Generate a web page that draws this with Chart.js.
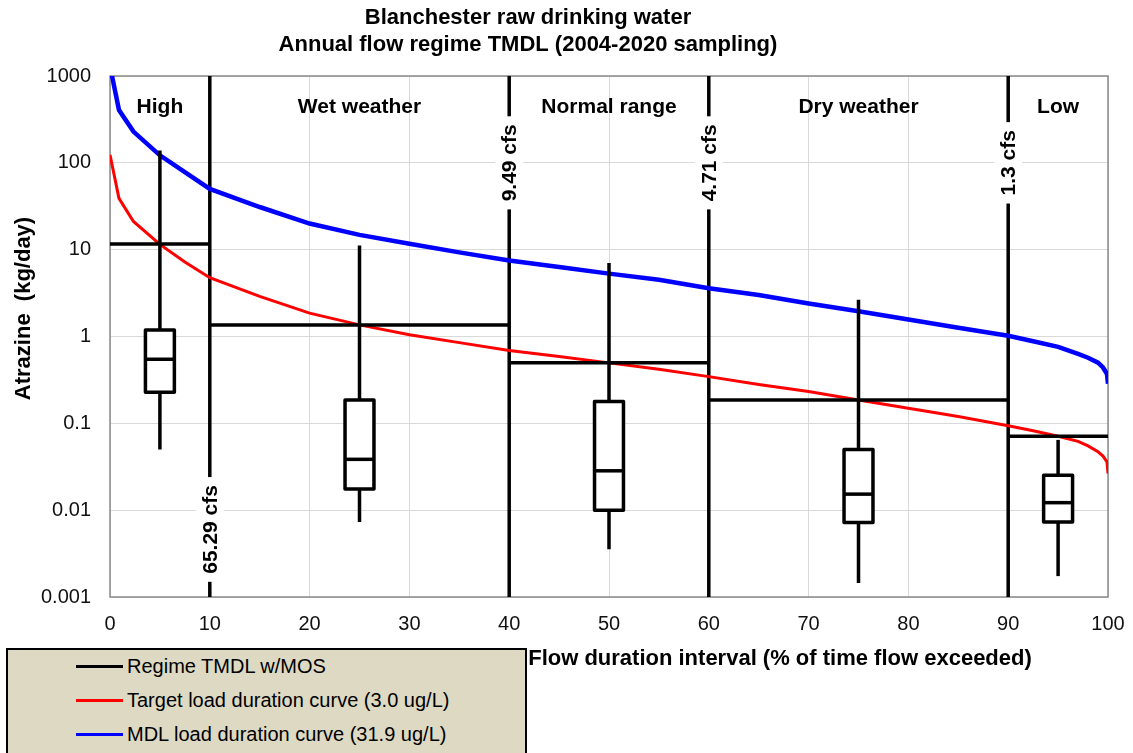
<!DOCTYPE html>
<html>
<head>
<meta charset="utf-8">
<script src="https://cdn.jsdelivr.net/npm/chart.js@4/dist/chart.umd.min.js"></script>
<style>
  html, body { margin: 0; padding: 0; background: #fff; }
  #wrap { position: relative; width: 1133px; height: 753px; overflow: hidden; }
  #legend {
    position: absolute; left: 6px; top: 648px; width: 521px; height: 120px;
    box-sizing: border-box; background: #ddd9c3; border: 2px solid #000;
    font: 20px "Liberation Sans", Arial, sans-serif; color: #000;
  }
  #legend .item { position: absolute; left: 68px; height: 24px; line-height: 24px; white-space: nowrap; }
  #legend .swatch { display: inline-block; width: 47px; height: 3px; vertical-align: middle; margin-right: 4px; position: relative; top: -1px; }
</style>
</head>
<body>
<div id="wrap">
  <canvas id="chart" width="1133" height="753"></canvas>
  <div id="legend"></div>
</div>
<script>
// flow duration interval (% of time flow exceeded)
const flowPct = [0, 0.9, 2.35, 5, 7.5, 10, 15, 20, 25, 30, 35, 40, 45, 50, 55, 60, 65, 70, 75, 80, 85, 90, 92.5, 95, 97, 98, 99, 99.5, 99.9, 100];
// load duration curves, kg/day
const targetLoad = [124, 39, 21.1, 11.5, 7.2, 4.75, 2.9, 1.86, 1.36, 1.05, 0.85, 0.69, 0.59, 0.497, 0.42, 0.345, 0.28, 0.232, 0.186, 0.149, 0.12, 0.094, 0.082, 0.071, 0.062, 0.055, 0.047, 0.042, 0.036, 0.0265];
const mdlLoad = [1300, 406, 229, 122, 78, 50, 31, 20, 14.8, 11.7, 9.3, 7.5, 6.3, 5.3, 4.5, 3.6, 3.0, 2.4, 1.95, 1.57, 1.26, 1.02, 0.88, 0.76, 0.63, 0.57, 0.5, 0.44, 0.37, 0.285];

// flow regimes
const regimeBounds = [0, 10, 40, 60, 90, 100];
const regimeNames = ['High', 'Wet weather', 'Normal range', 'Dry weather', 'Low'];
const regimeTmdl = [11.6, 1.36, 0.497, 0.186, 0.0708];
const dividerFlow = [10, 40, 60, 90];
const dividerCfs = ['65.29 cfs', '9.49 cfs', '4.71 cfs', '1.3 cfs'];

// sampled loads per regime (box plots)
const boxFlow = [5, 25, 50, 75, 95];
const whiskerHigh = [139, 11.2, 7.0, 2.65, 0.0645];
const q3 = [1.19, 0.186, 0.178, 0.050, 0.0253];
const median = [0.547, 0.0385, 0.0284, 0.0153, 0.0122];
const q1 = [0.228, 0.0175, 0.0100, 0.0072, 0.0073];
const whiskerLow = [0.050, 0.0073, 0.00355, 0.00145, 0.00174];

const yTicks = [0.001, 0.01, 0.1, 1, 10, 100, 1000];
const yTickLabels = ['0.001', '0.01', '0.1', '1', '10', '100', '1000'];

const FONT = '"Liberation Sans", Arial, sans-serif';
Chart.defaults.font.family = FONT;
Chart.defaults.color = '#111';

const tmdlPoints = [];
regimeTmdl.forEach((v, i) => {
  tmdlPoints.push({ x: regimeBounds[i], y: v }, { x: regimeBounds[i + 1], y: v }, { x: regimeBounds[i + 1], y: null });
});

const overlay = {
  id: 'overlay',
  beforeDatasetsDraw(chart) {
    const { ctx, chartArea: a, scales: { x } } = chart;
    ctx.save();
    ctx.strokeStyle = '#8a8a8a';
    ctx.lineWidth = 1.5;
    ctx.strokeRect(a.left, a.top, a.right - a.left, a.bottom - a.top);
    ctx.strokeStyle = '#000';
    ctx.lineWidth = 3.5;
    dividerFlow.forEach(f => {
      const px = x.getPixelForValue(f);
      ctx.beginPath();
      ctx.moveTo(px, a.top);
      ctx.lineTo(px, a.bottom);
      ctx.stroke();
    });
    ctx.restore();
  },
  afterDatasetsDraw(chart, args, opts) {
    const { ctx, chartArea: a, scales: { x, y } } = chart;
    ctx.save();
    // box plots
    ctx.strokeStyle = '#000';
    ctx.lineWidth = 3.5;
    ctx.lineJoin = 'round';
    boxFlow.forEach((f, i) => {
      const px = x.getPixelForValue(f);
      const half = x.getPixelForValue(f + 1.45) - px;
      ctx.beginPath();
      ctx.moveTo(px, y.getPixelForValue(whiskerHigh[i]));
      ctx.lineTo(px, y.getPixelForValue(whiskerLow[i]));
      ctx.stroke();
      const top = y.getPixelForValue(q3[i]);
      const bot = y.getPixelForValue(q1[i]);
      ctx.fillStyle = '#fff';
      ctx.fillRect(px - half, top, half * 2, bot - top);
      ctx.strokeRect(px - half, top, half * 2, bot - top);
      const my = y.getPixelForValue(median[i]);
      ctx.beginPath();
      ctx.moveTo(px - half, my);
      ctx.lineTo(px + half, my);
      ctx.stroke();
    });
    // flow labels on the regime dividers
    ctx.font = 'bold 21px ' + FONT;
    ctx.textAlign = 'center';
    ctx.textBaseline = 'middle';
    dividerFlow.forEach((f, i) => {
      const px = x.getPixelForValue(f);
      const py = y.getPixelForValue(opts.labelAt[i]);
      const w = ctx.measureText(dividerCfs[i]).width;
      ctx.fillStyle = '#fff';
      ctx.fillRect(px - 14, py - w / 2 - 8, 28, w + 16);
      ctx.save();
      ctx.translate(px + 1, py);
      ctx.rotate(-Math.PI / 2);
      ctx.fillStyle = '#000';
      ctx.fillText(dividerCfs[i], 0, 0);
      ctx.restore();
    });
    // regime names
    ctx.fillStyle = '#000';
    regimeNames.forEach((n, i) => {
      const px = x.getPixelForValue((regimeBounds[i] + regimeBounds[i + 1]) / 2);
      ctx.fillText(n, px, a.top + 31);
    });
    ctx.restore();
  },
  afterDraw(chart) {
    const { ctx, chartArea: a } = chart;
    ctx.save();
    ctx.fillStyle = '#000';
    ctx.textAlign = 'center';
    ctx.textBaseline = 'middle';
    ctx.font = 'bold 22px ' + FONT;
    ctx.fillText('Blanchester raw drinking water', 528, 18);
    ctx.fillText('Annual flow regime TMDL (2004-2020 sampling)', 528, 45);
    ctx.fillText('Flow duration interval (% of time flow exceeded)', 780, a.bottom + 62);
    ctx.save();
    ctx.translate(24, (a.top + a.bottom) / 2 - 28);
    ctx.rotate(-Math.PI / 2);
    ctx.fillText('Atrazine  (kg/day)', 0, 0);
    ctx.restore();
    ctx.restore();
  }
};

const chart = new Chart(document.getElementById('chart'), {
  type: 'line',
  data: {
    datasets: [
      {
        label: 'Regime TMDL w/MOS',
        data: tmdlPoints,
        borderColor: '#000',
        borderWidth: 3.5,
        pointRadius: 0,
        spanGaps: false
      },
      {
        label: 'Target load duration curve (3.0 ug/L)',
        data: flowPct.map((f, i) => ({ x: f, y: targetLoad[i] })),
        borderColor: '#ff0000',
        borderWidth: 3,
        pointRadius: 0
      },
      {
        label: 'MDL load duration curve (31.9 ug/L)',
        data: flowPct.map((f, i) => ({ x: f, y: mdlLoad[i] })),
        borderColor: '#0000ff',
        borderWidth: 4.5,
        pointRadius: 0
      }
    ]
  },
  options: {
    responsive: false,
    animation: false,
    layout: { padding: { top: 76, right: 25, bottom: 0, left: 0 } },
    plugins: {
      legend: { display: false },
      tooltip: { enabled: false },
      overlay: { labelAt: [0.006, 100, 100, 100] }
    },
    scales: {
      x: {
        type: 'linear',
        min: 0,
        max: 100,
        border: { display: false },
        grid: { color: '#d9d9d9', lineWidth: 1, drawTicks: false },
        ticks: { stepSize: 10, padding: 15, font: { size: 20 }, color: '#111', maxRotation: 0 },
        afterFit(scale) {
          scale.height = 156;
          scale.paddingLeft = 0;
          scale.paddingRight = 0;
        }
      },
      y: {
        type: 'logarithmic',
        min: 0.001,
        max: 1000,
        border: { display: false },
        grid: { color: '#d9d9d9', lineWidth: 1, drawTicks: false },
        afterBuildTicks(scale) { scale.ticks = yTicks.map(v => ({ value: v })); },
        ticks: {
          padding: 19,
          font: { size: 20 },
          color: '#111',
          callback: v => yTickLabels[yTicks.indexOf(v)]
        },
        afterFit(scale) {
          scale.width = 110;
          scale.paddingTop = 0;
          scale.paddingBottom = 0;
        }
      }
    }
  },
  plugins: [overlay]
});

// legend box built from the chart's datasets
const legendEl = document.getElementById('legend');
chart.data.datasets.forEach((ds, i) => {
  const row = document.createElement('div');
  row.className = 'item';
  row.style.top = (4 + i * 34) + 'px';
  const sw = document.createElement('span');
  sw.className = 'swatch';
  sw.style.background = ds.borderColor;
  row.appendChild(sw);
  row.appendChild(document.createTextNode(ds.label));
  legendEl.appendChild(row);
});
</script>
</body>
</html>
